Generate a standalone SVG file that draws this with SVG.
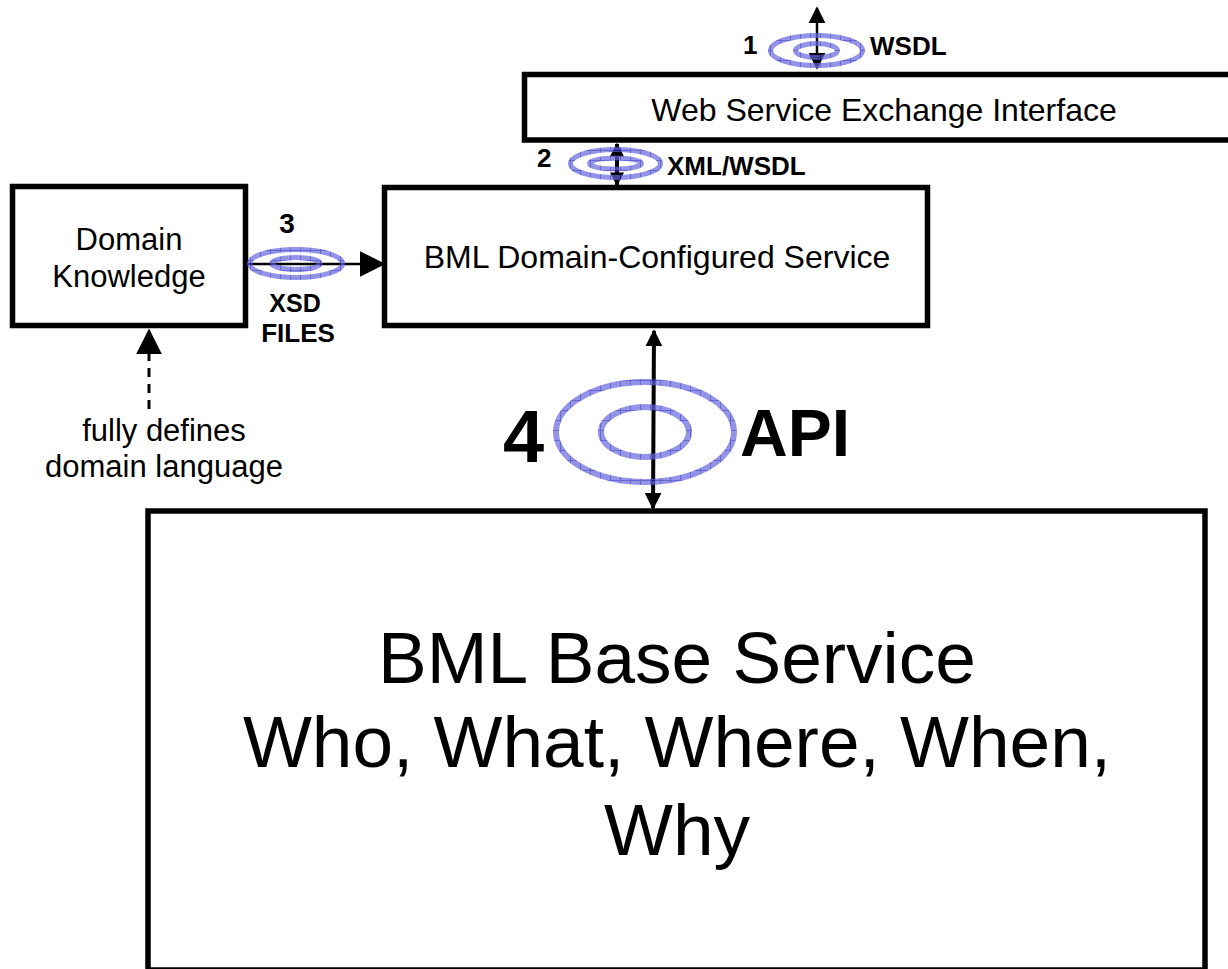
<svg xmlns="http://www.w3.org/2000/svg" width="1228" height="969" viewBox="0 0 1228 969">
  <style>
    .box { fill: #ffffff; stroke: #000000; stroke-width: 5.5; }
    .t { font-family: "Liberation Sans", Arial, sans-serif; fill: #000000; }
    .b { font-weight: bold; }
    .ring { fill: none; stroke: url(#hatch); }
    .line { stroke: #000000; fill: none; }
  </style>
  <defs>
    <!-- gridded blue texture for the interface rings -->
    <pattern id="hatch" width="10" height="10" patternUnits="userSpaceOnUse">
      <rect width="10" height="10" fill="#6666de"/>
      <path d="M0.5,0 V10 M0,0.5 H10" stroke="#2828c0" stroke-width="1"/>
    </pattern>
    <marker id="ahL" viewBox="0 0 10 10" refX="9" refY="5" markerWidth="26" markerHeight="26" markerUnits="userSpaceOnUse" orient="auto-start-reverse">
      <path d="M0,0 L10,5 L0,10 z" fill="#000000"/>
    </marker>
    <marker id="ahM" viewBox="0 0 10 10" refX="9" refY="5" markerWidth="17" markerHeight="17" markerUnits="userSpaceOnUse" orient="auto-start-reverse">
      <path d="M0,0 L10,5 L0,10 z" fill="#000000"/>
    </marker>
    <marker id="ahS" viewBox="0 0 10 10" refX="9" refY="5" markerWidth="14" markerHeight="14" markerUnits="userSpaceOnUse" orient="auto-start-reverse">
      <path d="M0,0 L10,5 L0,10 z" fill="#000000"/>
    </marker>
  </defs>

  <!-- Web service interface (runs off the right edge) -->
  <g id="node-wsei">
    <rect class="box" x="524.5" y="74.5" width="720" height="65.5"/>
    <text class="t" x="884" y="121" font-size="32" text-anchor="middle">Web Service Exchange Interface</text>
  </g>

  <g id="node-domain-knowledge">
    <rect class="box" x="12.5" y="186.5" width="233" height="139"/>
    <text class="t" x="129" y="250" font-size="31" text-anchor="middle">Domain</text>
    <text class="t" x="129" y="287" font-size="31" text-anchor="middle">Knowledge</text>
  </g>

  <g id="node-domain-service">
    <rect class="box" x="384.5" y="187.5" width="543" height="138"/>
    <text class="t" x="657" y="268" font-size="32" text-anchor="middle">BML Domain-Configured Service</text>
  </g>

  <g id="node-base-service">
    <rect class="box" x="148" y="511" width="1057" height="459" stroke-width="6"/>
    <text class="t" x="677" y="683" font-size="73" text-anchor="middle">BML Base Service</text>
    <text class="t" x="677" y="767" font-size="73" text-anchor="middle">Who, What, Where, When,</text>
    <text class="t" x="677" y="855" font-size="73" text-anchor="middle">Why</text>
  </g>

  <g id="node-note">
    <text class="t" x="164" y="441" font-size="31" text-anchor="middle">fully defines</text>
    <text class="t" x="164" y="477" font-size="31" text-anchor="middle">domain language</text>
  </g>

  <g id="connectors">
    <line class="line" x1="817" y1="8" x2="817" y2="68" stroke-width="2.5" marker-start="url(#ahM)" marker-end="url(#ahM)"/>
    <line class="line" x1="617" y1="144" x2="617" y2="185" stroke-width="4" marker-start="url(#ahS)" marker-end="url(#ahS)"/>
    <line class="line" x1="248" y1="264" x2="383" y2="264" stroke-width="2.5" marker-end="url(#ahL)"/>
    <line class="line" x1="654" y1="331" x2="653" y2="508" stroke-width="4" marker-start="url(#ahM)" marker-end="url(#ahM)"/>
    <line class="line" x1="149" y1="409" x2="149" y2="331" stroke-width="3" stroke-dasharray="9,7" marker-end="url(#ahL)"/>
  </g>

  <!-- interface rings, translucent over the connectors -->
  <g id="rings" opacity="0.7">
    <ellipse class="ring" cx="816.5" cy="50.5" rx="46" ry="15" stroke-width="5"/>
    <ellipse class="ring" cx="816.5" cy="50.5" rx="21" ry="7" stroke-width="5"/>
    <ellipse class="ring" cx="615.5" cy="163.5" rx="45" ry="14" stroke-width="5"/>
    <ellipse class="ring" cx="615.5" cy="163.5" rx="26" ry="5.5" stroke-width="5"/>
    <ellipse class="ring" cx="296" cy="263.5" rx="46.5" ry="14" stroke-width="5"/>
    <ellipse class="ring" cx="296" cy="263.5" rx="24" ry="6" stroke-width="5"/>
    <ellipse class="ring" cx="645" cy="432" rx="89" ry="50" stroke-width="6"/>
    <ellipse class="ring" cx="645" cy="432" rx="44" ry="25" stroke-width="6"/>
  </g>

  <g id="labels">
    <text class="t b" x="743" y="54" font-size="26">1</text>
    <text class="t b" x="870" y="55" font-size="26">WSDL</text>
    <text class="t b" x="537" y="167" font-size="26">2</text>
    <text class="t b" x="667" y="175" font-size="26">XML/WSDL</text>
    <text class="t b" x="287" y="233" font-size="28" text-anchor="middle">3</text>
    <text class="t b" x="295" y="312" font-size="25" text-anchor="middle">XSD</text>
    <text class="t b" x="298" y="342" font-size="26" text-anchor="middle">FILES</text>
    <text class="t b" x="503" y="462" font-size="74">4</text>
    <text class="t b" x="740" y="456" font-size="66">API</text>
  </g>
</svg>
